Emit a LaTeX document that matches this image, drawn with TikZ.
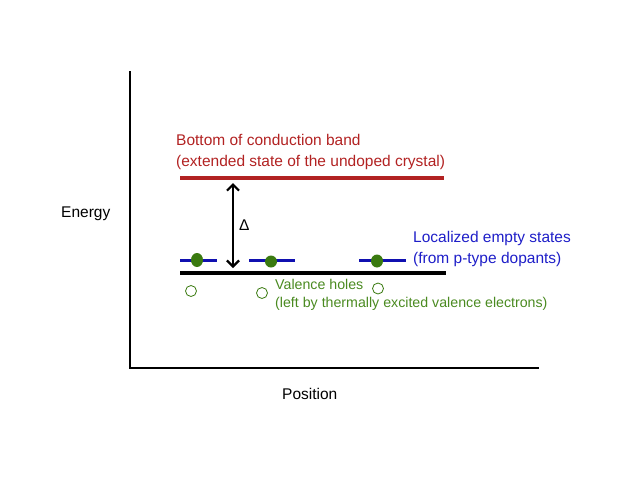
\documentclass[tikz,border=0pt]{standalone}
\usepackage{fontspec}
\setmainfont{Liberation Sans}
\usepackage{tikz}
\usetikzlibrary{arrows.meta}

\definecolor{bandred}{RGB}{178,34,34}
\definecolor{statblue}{RGB}{16,16,176}
\definecolor{textblue}{RGB}{30,30,200}
\definecolor{dotgreen}{RGB}{58,122,16}
\definecolor{textgreen}{RGB}{74,138,32}

\begin{document}
\begin{tikzpicture}[x=1pt, y=-1pt,
   lbl/.style={inner sep=0pt, font=\fontsize{15.5}{21}\selectfont, align=left},
   level/.style={draw=statblue, line width=3pt},
   elec/.style={fill=dotgreen, draw=none},
   hole/.style={draw=dotgreen, line width=0.8pt, fill=white},
   gaparrow/.style={line width=2.2pt,
      {Straight Barb[length=6pt,width=12pt]}-{Straight Barb[length=6pt,width=12pt]}}]

   \useasboundingbox (0,0) rectangle (640,480);

   % axes
   \draw[line width=2pt] (130,71) -- (130,368) -- (539,368);
   \node[lbl, anchor=base west] (energy) at (61,217) {Energy};
   \node[lbl, anchor=base west] (pos) at (282,399) {Position};

   % bands
   \draw[draw=bandred, line width=4pt] (180,178) -- (444,178);
   \draw[draw=black, line width=4.5pt] (180,273) -- (446,273);

   \node[lbl, anchor=north west, text=bandred] (cb) at (176,133.7)
      {Bottom of conduction band\\(extended state of the undoped crystal)};

   % gap
   \coordinate (gtop) at (233,183);
   \coordinate (gbot) at (233,268);
   \draw[gaparrow] (gtop) -- (gbot) node[lbl, midway, right=5pt] (gap) {Δ};

   % acceptor levels
   \draw[level] (180,260) -- (217,260);
   \draw[level] (249,260) -- (295,260);
   \draw[level] (359,260) -- (406,260);
   \fill[elec] (197,260) ellipse (6 and 7);
   \fill[elec] (271,261.5) ellipse (6 and 6);
   \fill[elec] (377,261) ellipse (6 and 6.5);

   \node[lbl, anchor=north west, text=textblue] (acc) at (413,230.7)
      {Localized empty states\\(from p-type dopants)};

   % holes
   \draw[hole] (191,291) circle (5.5);
   \draw[hole] (262,293) circle (5.5);
   \draw[hole] (378,288.5) circle (5.5);

   \node[lbl, anchor=north west, text=textgreen, font=\fontsize{14.2}{18}\selectfont] (vh) at (275,279)
      {Valence holes\\(left by thermally excited valence electrons)};

\end{tikzpicture}
\end{document}
